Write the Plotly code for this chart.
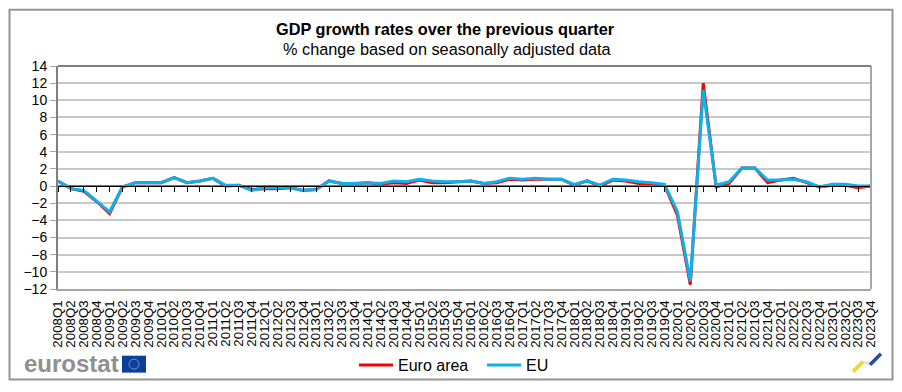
import plotly.graph_objects as go

years = range(2008, 2024)
quarters = [f"{y}Q{q}" for y in years for q in (1, 2, 3, 4)]

euro_area = [0.6, -0.3, -0.6, -1.8, -3.2, -0.1, 0.4, 0.4,
             0.4, 1.0, 0.4, 0.6, 0.9, 0.0, 0.1, -0.4,
             -0.3, -0.3, -0.2, -0.5, -0.4, 0.6, 0.3, 0.3,
             0.4, 0.2, 0.4, 0.3, 0.7, 0.4, 0.4, 0.5,
             0.6, 0.3, 0.4, 0.8, 0.7, 0.8, 0.8, 0.8,
             0.1, 0.6, 0.0, 0.7, 0.6, 0.3, 0.3, 0.1,
             -3.4, -11.5, 12.0, -0.1, 0.3, 2.1, 2.1, 0.4,
             0.7, 0.9, 0.4, -0.1, 0.1, 0.1, -0.2, 0.0]
eu = [0.6, -0.3, -0.5, -1.8, -3.0, -0.1, 0.4, 0.4,
      0.4, 1.0, 0.4, 0.6, 0.9, 0.1, 0.1, -0.5,
      -0.2, -0.2, -0.2, -0.5, -0.4, 0.6, 0.3, 0.3,
      0.4, 0.3, 0.6, 0.5, 0.8, 0.6, 0.5, 0.5,
      0.6, 0.3, 0.5, 0.9, 0.8, 0.9, 0.8, 0.8,
      0.2, 0.6, 0.1, 0.8, 0.7, 0.5, 0.4, 0.2,
      -3.0, -11.1, 11.2, 0.1, 0.5, 2.1, 2.1, 0.7,
      0.7, 0.8, 0.5, -0.1, 0.2, 0.2, 0.0, 0.0]
baseline = [0] * len(quarters)
y_ticks = list(range(-12, 16, 2))

W, H = 902, 392
L, R, T, B = 58, 871, 66, 290


def px(x):
    return (x - L) / (R - L)


def py(y):
    return (B - y) / (B - T)


def seg(x0, y0, x1, y1, color, width):
    return dict(type="line", xref="paper", yref="paper", x0=px(x0), x1=px(x1), y0=py(y0), y1=py(y1),
                line=dict(color=color, width=width), layer="above")


fig = go.Figure()
fig.add_trace(go.Scatter(x=quarters, y=baseline, mode="lines", showlegend=False, hoverinfo="skip",
                         line=dict(color="black", width=1), xaxis="x", yaxis="y"))
fig.add_trace(go.Scatter(x=quarters, y=euro_area, mode="lines", name="Euro area",
                         line=dict(color="#ff0000", width=3), xaxis="x2", yaxis="y"))
fig.add_trace(go.Scatter(x=quarters, y=eu, mode="lines", name="EU",
                         line=dict(color="#0cb0ea", width=3), xaxis="x2", yaxis="y"))

font = "Liberation Sans, Arial, sans-serif"
fig.update_layout(
    width=W, height=H, autosize=False,
    margin=dict(l=L, r=W - R, t=T, b=H - B, pad=0),
    paper_bgcolor="white", plot_bgcolor="white",
    font=dict(family=font, color="black"),
    showlegend=True,
    legend=dict(orientation="h", x=px(354), y=py(365), xanchor="left", yanchor="middle",
                font=dict(size=16, family=font), bgcolor="rgba(0,0,0,0)",
                tracegroupgap=0, itemwidth=34, entrywidth=79, entrywidthmode="pixels"),
    xaxis=dict(type="category", categoryorder="array", categoryarray=quarters,
               range=[0, 63], tickmode="array", tickvals=quarters, ticktext=quarters,
               tickangle=-90, tickfont=dict(size=13.3, family=font), ticks="outside",
               ticklen=4, tickcolor="rgba(0,0,0,0)",
               showgrid=False, showline=True, linecolor="#a6a6a6", linewidth=2,
               mirror=False, zeroline=False, anchor="y", automargin=False),
    xaxis2=dict(type="category", categoryorder="array", categoryarray=quarters,
                range=[0, 63], overlaying="x", anchor="free", position=12 / 26, side="bottom",
                tickmode="array", tickvals=quarters, ticks="outside", ticklen=5, tickwidth=1,
                tickcolor="black", showticklabels=False, showgrid=False, showline=True,
                linecolor="black", linewidth=1, zeroline=False),
    yaxis=dict(range=[-12, 14], tickmode="array", tickvals=y_ticks,
               tickfont=dict(size=14, family=font), ticks="outside", ticklen=6,
               tickcolor="#a6a6a6", showgrid=True, gridcolor="#c8c8c8", gridwidth=2,
               showline=True, linecolor="#808080", linewidth=2, zeroline=False,
               automargin=False),
    annotations=[
        dict(text="<b>GDP growth rates over the previous quarter</b>", xref="paper", yref="paper",
             x=px(445), y=py(29), showarrow=False, xanchor="center", yanchor="middle",
             font=dict(size=16.3, family=font)),
        dict(text="% change based on seasonally adjusted data", xref="paper", yref="paper",
             x=px(447), y=py(49), showarrow=False, xanchor="center", yanchor="middle",
             font=dict(size=16.3, family=font)),
        dict(text="<b>eurostat</b>", xref="paper", yref="paper",
             x=px(22), y=py(365), showarrow=False, xanchor="left", yanchor="middle",
             font=dict(size=24, family=font, color="#8f8f8f")),
    ],
    shapes=[
        dict(type="rect", xref="paper", yref="paper", x0=px(9.5), x1=px(892.5), y0=py(381), y1=py(9.5),
             line=dict(color="#959595", width=2), fillcolor="rgba(0,0,0,0)", layer="below"),
        seg(R, T, R, B, "#a6a6a6", 2),
        seg(L, T, R, T, "#808080", 2),
        dict(type="rect", xref="paper", yref="paper", x0=px(122), x1=px(146), y0=py(374), y1=py(357),
             line=dict(width=0), fillcolor="#0b3f9e"),
        dict(type="circle", xref="paper", yref="paper", x0=px(129), x1=px(139), y0=py(370.5), y1=py(360.5),
             line=dict(color="#7f93a8", width=1), fillcolor="rgba(0,0,0,0)"),
        seg(862, 363, 871, 366, "#e4e2dc", 3),
        seg(853, 373, 863, 363, "#ecd93c", 4),
        seg(870, 366, 881, 355, "#24509f", 3.5),
    ],
)

fig.write_html("out.html", post_script="document.body.style.margin='0';",
               config={"displayModeBar": False})
